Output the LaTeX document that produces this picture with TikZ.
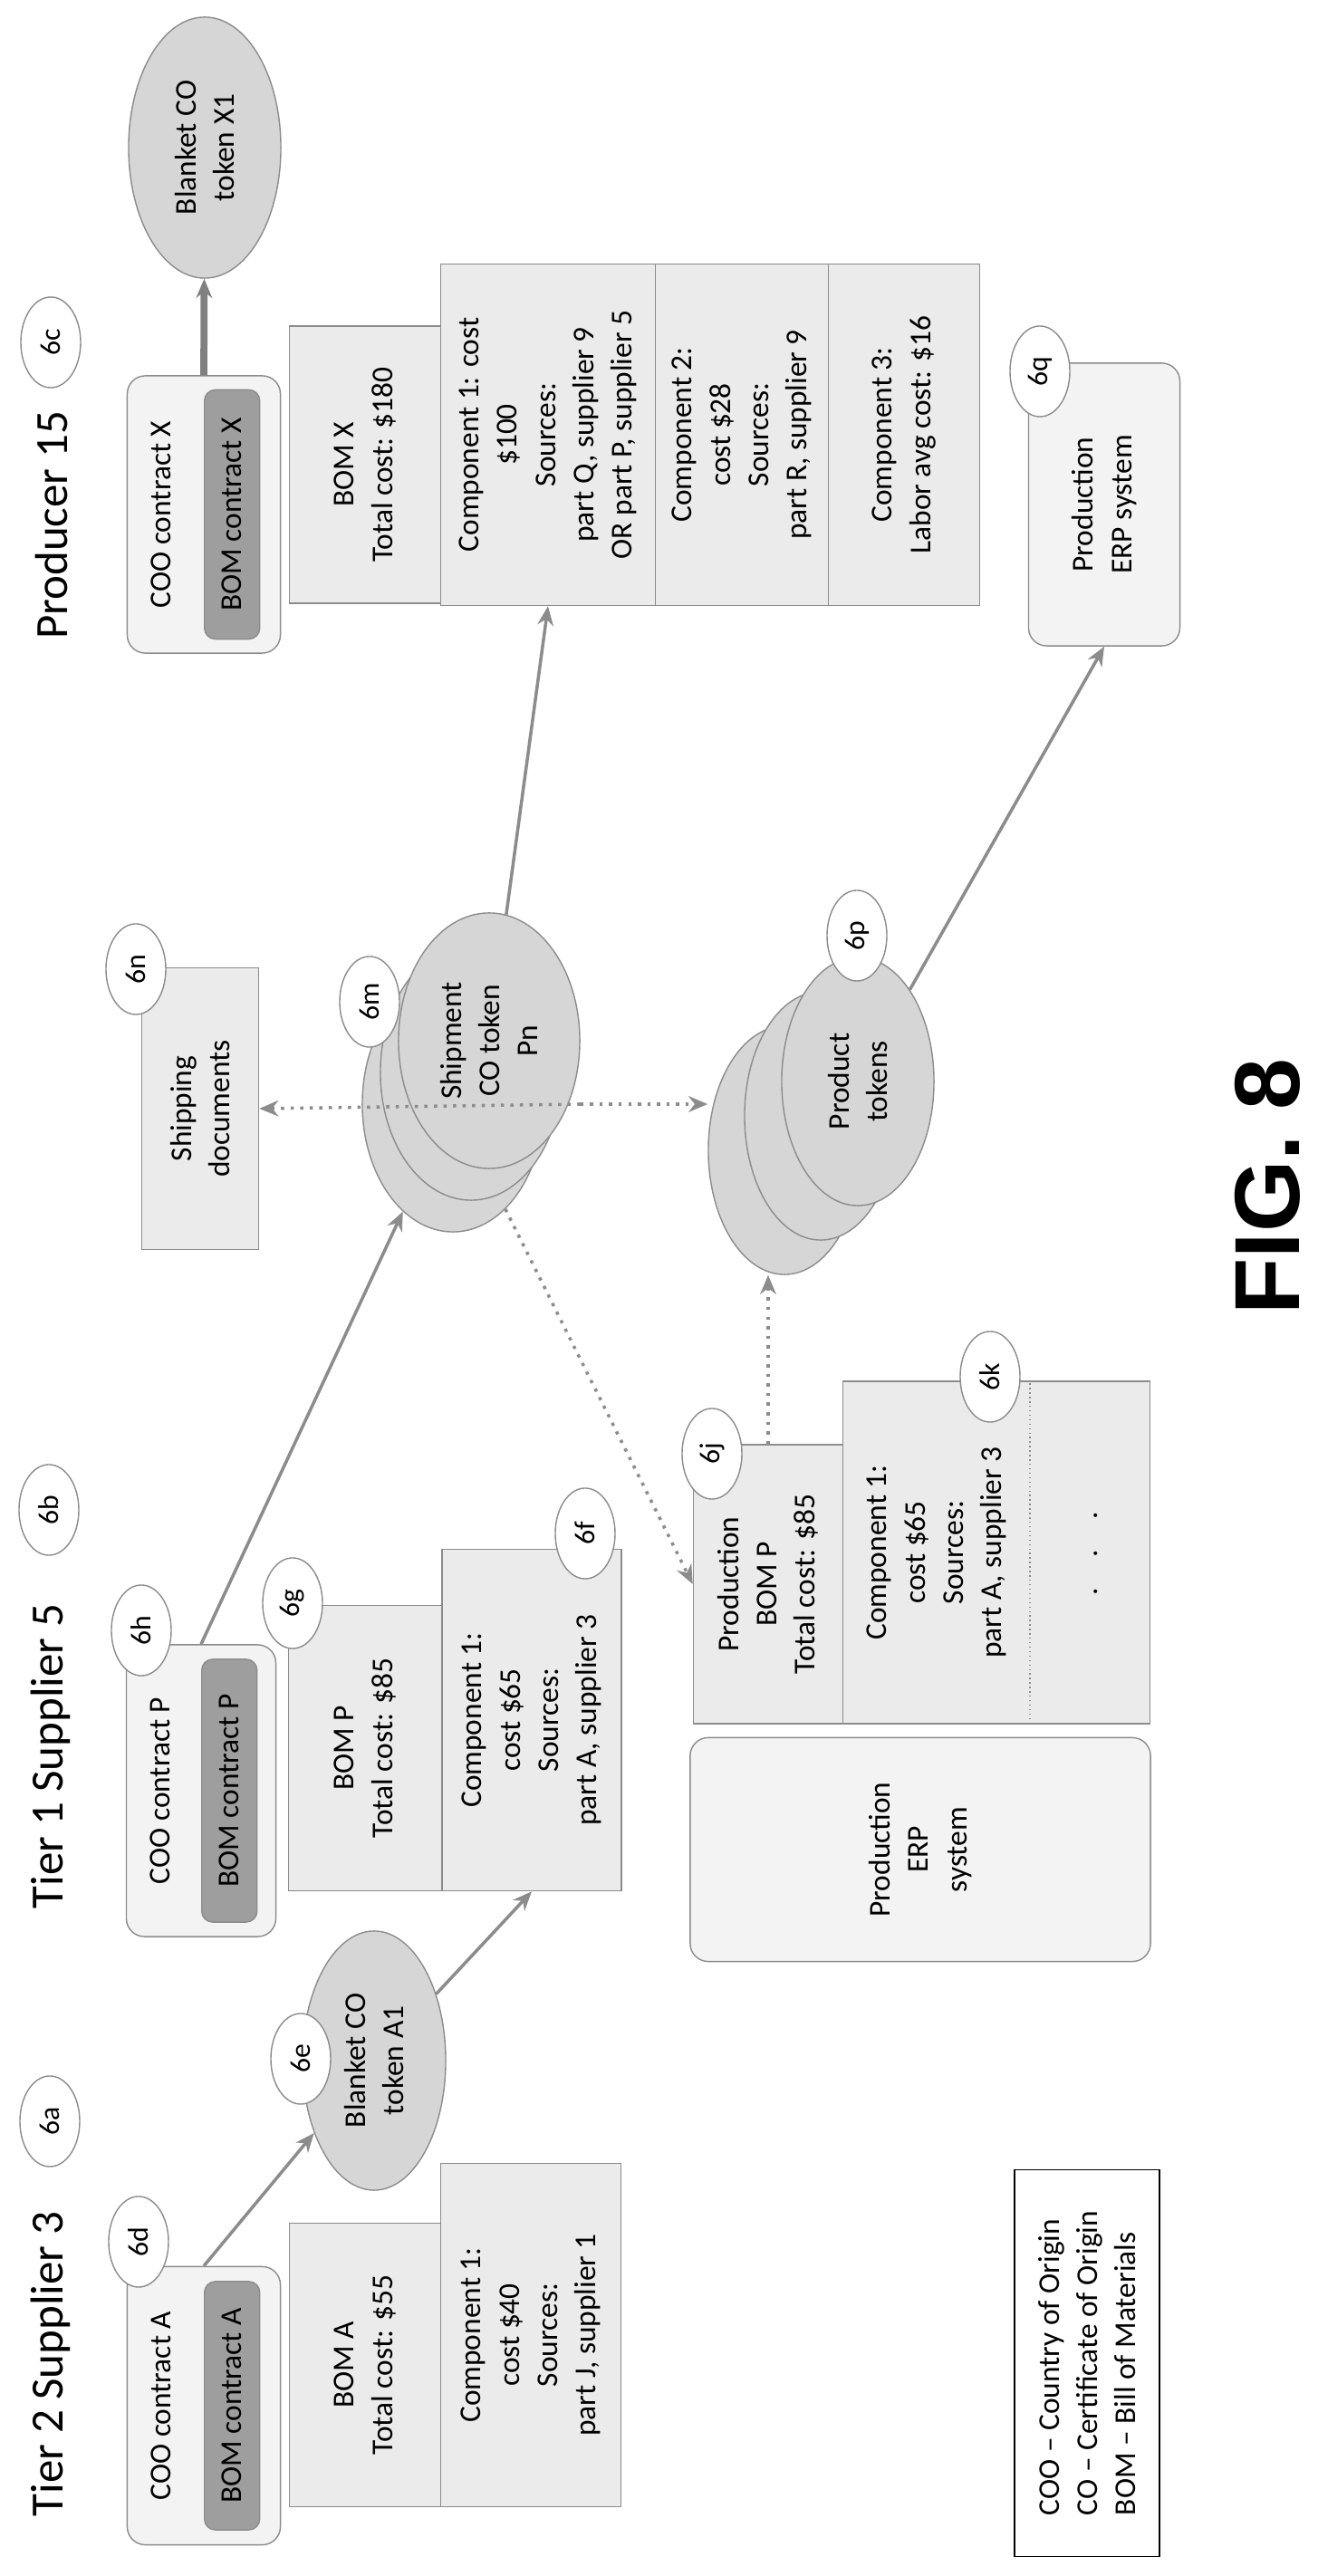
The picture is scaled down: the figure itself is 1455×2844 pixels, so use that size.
\documentclass[tikz,border=0pt]{standalone}
\usepackage{fontspec}
\setmainfont{Carlito}
\newfontfamily\figfont{Liberation Sans}
\usetikzlibrary{shapes.geometric,arrows.meta}
\definecolor{stipple}{gray}{0.92}
\definecolor{token gray}{gray}{0.84}
\definecolor{contract gray}{gray}{0.62}
\definecolor{edge gray}{gray}{0.55}

\begin{document}
\begin{tikzpicture}[x=0.01cm,y=0.01cm,
		box/.style={draw=edge gray, fill=stipple, align=center, inner sep=0pt, font=\fontsize{9.5}{12}\selectfont},
		coo/.style={box, rounded corners=0.2cm, fill=stipple!60},
		bomc/.style={box, rounded corners=0.12cm, fill=contract gray, minimum height=0.61cm},
		token/.style={ellipse, draw=edge gray, fill=token gray, align=center, inner sep=0pt, font=\fontsize{9.5}{12}\selectfont},
		tag/.style={ellipse, draw=edge gray, fill=white, minimum width=1cm, minimum height=0.66cm, inner sep=0pt, font=\fontsize{9}{10}\selectfont},
		title/.style={font=\fontsize{14.5}{16}\selectfont},
		link/.style={draw=edge gray, line width=1pt, -{Stealth[length=6pt,width=5pt]}},
		dotlink/.style={draw=edge gray, line width=1pt, dotted, -{Stealth[length=6pt,width=5pt]}}]
	\useasboundingbox (0,0) rectangle (1455,2844);
	\begin{scope}[rotate=90, transform shape]
		% tier 2 supplier
		\node[title] (tierA) at (234,-56) {Tier 2 Supplier 3};
		\node[coo, minimum width=3.07cm, minimum height=1.69cm] (cooA) at (188,-225) {};
		\node[box, draw=none, fill=none] at ([yshift=-0.38cm]cooA.north) {COO contract A};
		\node[bomc, minimum width=2.74cm] (bomcA) at ([yshift=0.54cm]cooA.south) {BOM contract A};
		\node[box, minimum width=3.13cm, minimum height=1.67cm] (bomA) at (233,-403) {BOM A\\Total cost: \$55};
		\node[box, minimum width=3.79cm, minimum height=1.99cm] (compA) at (266,-586) {Component 1:\\cost \$40\\Sources:\\part J, supplier 1};
		\node[token, minimum width=2.86cm, minimum height=1.58cm] (tokA1) at (569,-413) {Blanket CO\\token A1};

		% tier 1 supplier
		\node[title] (tierB) at (905,-56) {Tier 1 Supplier 5};
		\node[coo, minimum width=3.22cm, minimum height=1.65cm] (cooP) at (867,-222) {};
		\node[box, draw=none, fill=none] at ([yshift=-0.38cm]cooP.north) {COO contract P};
		\node[bomc, minimum width=2.9cm] (bomcP) at ([yshift=0.52cm]cooP.south) {BOM contract P};
		\node[box, minimum width=3.15cm, minimum height=1.69cm] (bomP) at (914,-403) {BOM P\\Total cost: \$85};
		\node[box, minimum width=3.77cm, minimum height=1.98cm] (compP) at (945,-587) {Component 1:\\cost \$65\\Sources:\\part A, supplier 3};
		\node[coo, minimum width=2.47cm, minimum height=5.08cm] (erpP) at (802,-1016) {Production\\ERP\\system};
		\node[box, minimum width=3.08cm, minimum height=1.65cm] (prodBom) at (1095,-848) {Production\\BOM P\\Total cost: \$85};
		\node[box, minimum width=3.78cm, minimum height=3.39cm] (prodComp) at (1130,-1100) {};
		\draw[edge gray, densely dotted] (941,-1137) -- (1319,-1137);
		\node[box, draw=none, fill=none] at (1130,-1034) {Component 1:\\cost \$65\\Sources:\\part A, supplier 3};
		\node[box, draw=none, fill=none] at (1129,-1210) {.\quad.\quad.};

		% shipment
		\node[box, minimum width=3.11cm, minimum height=1.29cm] (docs) at (1620,-221) {Shipping\\documents};
		\node[token, minimum width=2.82cm, minimum height=2cm] (shipC) at (1625,-500) {Shipment\\CO token\\Pn};
		\node[token, minimum width=2.82cm, minimum height=2cm] (shipB) at (1660,-520) {Shipment\\CO token\\Pn};
		\node[token, minimum width=2.82cm, minimum height=2cm] (shipA) at (1695,-540) {Shipment\\CO token\\Pn};
		\node[token, minimum width=2.74cm, minimum height=1.68cm] (tokC) at (1574,-866) {};
		\node[token, minimum width=2.74cm, minimum height=1.68cm] (tokB) at (1612,-906) {};
		\node[token, minimum width=2.74cm, minimum height=1.68cm] (tokA) at (1650,-947) {Product\\tokens};
		\node[font=\figfont\bfseries\fontsize{29}{30}\selectfont] (fig) at (1534,-1399) {FIG. 8};

		% producer
		\node[title] (tierX) at (2264,-57) {Producer 15};
		\node[coo, minimum width=3.06cm, minimum height=1.69cm] (cooX) at (2276,-225) {};
		\node[box, draw=none, fill=none] at ([yshift=-0.38cm]cooX.north) {COO contract X};
		\node[bomc, minimum width=2.75cm] (bomcX) at ([yshift=0.54cm]cooX.south) {BOM contract X};
		\node[token, minimum width=2.88cm, minimum height=1.68cm] (tokX1) at (2681,-226) {Blanket CO\\token X1};
		\node[box, minimum width=3.06cm, minimum height=1.67cm] (bomX) at (2331,-403) {BOM X\\Total cost: \$180};
		\node[box, minimum width=3.77cm, minimum height=2.37cm] (compXa) at (2364,-605) {Component 1: cost\\\$100\\Sources:\\part Q, supplier 9\\OR part P, supplier 5};
		\node[box, minimum width=3.77cm, minimum height=1.91cm] (compXb) at (2364,-819) {Component 2:\\cost \$28\\Sources:\\part R, supplier 9};
		\node[box, minimum width=3.77cm, minimum height=1.67cm] (compXc) at (2364,-998) {Component 3:\\Labor avg cost: \$16};
		\node[coo, minimum width=3.12cm, minimum height=1.67cm] (erpX) at (2287,-1219) {Production\\ERP system};

		% legend
		\node[box, draw=black, fill=white, align=left, minimum width=4.27cm, minimum height=1.6cm] (legend) at (235,-1200)
			{COO -- Country of Origin\\CO -- Certificate of Origin\\BOM -- Bill of Materials};

		% connectors
		\draw[link] (cooA.east) -- (tokA1);
		\draw[link] (tokA1) -- (compP.west);
		\draw[link] (cooP.east) -- (shipC);
		\draw[link] (shipA) -- (compXa.west);
		\draw[link] (tokA) -- (erpX.west);
		\draw[link, line width=2.2pt, draw=gray] (cooX.east) -- (tokX1);
		\draw[dotlink] (shipC.center |- shipA.south) -- (docs.south);
		\draw[dotlink] (shipC.center |- shipA.south) -- (tokC.north -| shipC.center);
		\draw[dotlink] (shipC) -- (prodBom.north);
		\draw[dotlink] (prodBom.east) -- (prodBom.east -| tokC.west);

		% reference tags
		\node[tag] (t6a) at (502,-55) {6a};
		\node[tag] (t6b) at (1177,-54) {6b};
		\node[tag] (t6c) at (2466,-56) {6c};
		\node[tag] (t6d) at (369,-153) {6d};
		\node[tag] (t6e) at (571,-332) {6e};
		\node[tag] (t6h) at (1044,-156) {6h};
		\node[tag] (t6g) at (1074,-323) {6g};
		\node[tag] (t6f) at (1151,-646) {6f};
		\node[tag] (t6j) at (1239,-786) {6j};
		\node[tag] (t6k) at (1324,-1093) {6k};
		\node[tag] (t6n) at (1774,-150) {6n};
		\node[tag] (t6m) at (1738,-408) {6m};
		\node[tag] (t6p) at (1811,-946) {6p};
		\node[tag] (t6q) at (2434,-1148) {6q};
	\end{scope}
\end{tikzpicture}
\end{document}
